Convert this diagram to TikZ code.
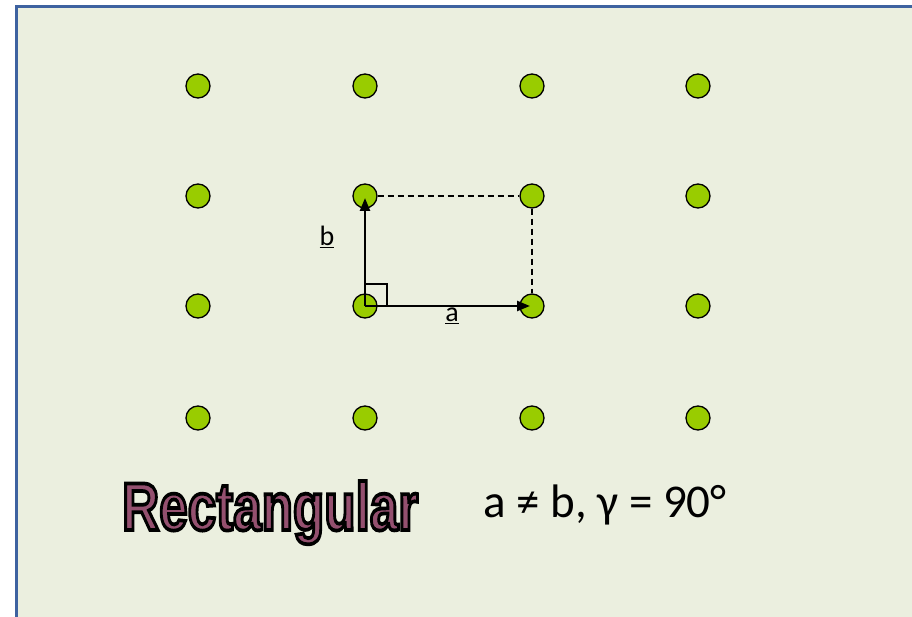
\documentclass[tikz,border=0pt]{standalone}
\usepackage{fontspec}
\setmainfont{Carlito}
\newfontfamily\titlefont{Liberation Sans}
\usepackage{graphicx}
\usetikzlibrary{arrows.meta}
\definecolor{panel}{HTML}{EBEFDF}
\definecolor{rim}{HTML}{3E62A0}
\definecolor{lime}{HTML}{99CC00}
\definecolor{plum}{HTML}{94506F}
\newcommand{\rectword}{\resizebox{296pt}{49pt}{\titlefont\bfseries Rectangular}}

\begin{document}
\begin{tikzpicture}[x=1pt,y=-1pt,>={Triangle[length=13pt,width=10pt]},
  lattice/.style={circle,draw=black,line width=1.3pt,fill=lime,minimum size=24pt,inner sep=0pt},
  vec/.style={->,line width=2.4pt,shorten >=2pt},
  guide/.style={dash pattern=on 6pt off 4pt,line width=1.3pt}]
  \useasboundingbox (0,0) rectangle (912,617);
  \clip (0,0) rectangle (912,617);
  \fill[white] (0,0) rectangle (912,617);
  \draw[rim,line width=3pt,fill=panel] (16,7) rectangle (940,650);
  % lattice points
  \foreach \col/\x in {1/198,2/365,3/532,4/698}
    \foreach \row/\y in {1/86,2/196,3/306,4/418}
      \node[lattice] (d\row\col) at (\x,\y) {};
  \draw[guide] (d22.east) -- (d23.west);
  \draw[guide] (d23.south) -- (d33.north);
  \draw[line width=1.3pt] ([yshift=22pt]d32.center) -| ([xshift=22pt]d32.center);
  \draw[vec] (d32.center) -- (d33.center);
  \draw[vec] (d32.center) -- (d22.center);
  \node[anchor=base,inner sep=0pt,font=\fontsize{28}{30}\selectfont] (lb) at (327,246) {\underline{b}};
  \node[anchor=base,inner sep=0pt,font=\fontsize{28}{30}\selectfont] (la) at (452,322) {\underline{a}};
  % title, filled and stroked
  \node[anchor=base west,inner sep=0pt,text=plum] (title) at (122,530)
    {\special{pdf:literal 2 Tr 0 0 0 RG 0.55 w}\rectword};
  \node[anchor=base west,inner sep=0pt,font=\fontsize{47}{50}\selectfont] (rule) at (483,517) {a ≠ b, γ = 90°};
\end{tikzpicture}
\end{document}
